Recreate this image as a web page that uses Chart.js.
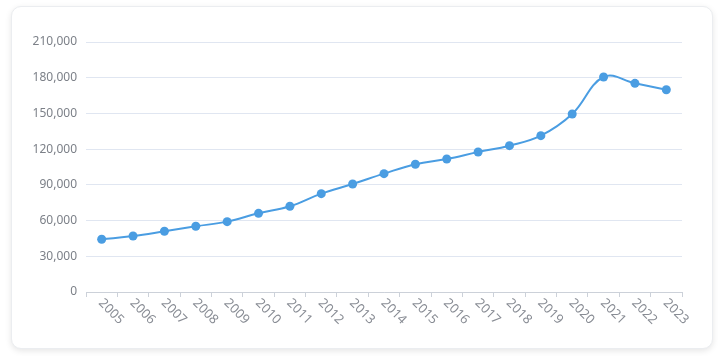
<!DOCTYPE html>
<html>
<head>
<meta charset="utf-8">
<script src="https://cdn.jsdelivr.net/npm/chart.js@4"></script>
<style>
  html, body { margin: 0; padding: 0; background: #fff; }
  .card {
    position: absolute; left: 11px; top: 6px; width: 700px; height: 341px;
    background: #fff; border: 1px solid #ebedf0; border-radius: 10px;
    box-shadow: 0 2px 6px rgba(0,0,0,0.10);
  }
  canvas { display: block; }
</style>
</head>
<body>
<div class="card"><canvas id="chart" width="700" height="341"></canvas></div>
<script>
let years = ["2005","2006","2007","2008","2009","2010","2011","2012","2013","2014",
             "2015","2016","2017","2018","2019","2020","2021","2022","2023"];
let values = [44300, 47000, 51000, 55200, 59100, 66100, 72000, 82600, 90700, 99400,
              107300, 111700, 117600, 122900, 131300, 149500, 180600, 175300, 169900];
let yTicks = [0, 30000, 60000, 90000, 120000, 150000, 180000, 210000];

let yColor = "#7c8088";
let xColor = "#888c94";

// rotated year labels, drawn clockwise starting at each category
let yearLabels = {
    id: "yearLabels",
    afterDraw(c) {
        let sx = c.scales.x, ctx = c.ctx;
        ctx.save();
        ctx.font = "13px 'Noto Sans', sans-serif";
        ctx.fillStyle = xColor;
        ctx.textAlign = "left";
        ctx.textBaseline = "middle";
        years.forEach((y, i) => {
            ctx.save();
            ctx.translate(sx.getPixelForValue(i) - 1, sx.top + 9);
            ctx.rotate(Math.PI / 4);
            ctx.fillText(y, 0, 0);
            ctx.restore();
        });
        ctx.restore();
    }
};

new Chart(document.getElementById("chart"), {
    type: "line",
    data: {
        labels: years,
        datasets: [{
            data: values,
            borderColor: "#4a9de2",
            backgroundColor: "#4a9de2",
            borderWidth: 2,
            pointRadius: 4.5,
            pointBorderWidth: 0,
            tension: 0.4,
            fill: false
        }]
    },
    options: {
        responsive: false,
        animation: false,
        layout: { padding: { left: 0, top: 35, right: 30, bottom: 0 } },
        plugins: { legend: { display: false }, tooltip: { enabled: false } },
        scales: {
            x: {
                offset: true,
                grid: { offset: true, drawOnChartArea: false, tickLength: 5, color: "#ccd1d9" },
                border: { color: "#ccd1d9" },
                ticks: { display: false },
                afterFit: s => { s.height = 56; }
            },
            y: {
                min: 0, max: 210000,
                afterBuildTicks: s => { s.ticks = yTicks.map(v => ({ value: v })); },
                grid: { color: "#E0E6F1", drawTicks: false },
                border: { display: false },
                ticks: {
                    padding: 9,
                    color: yColor,
                    font: { family: "'Noto Sans', sans-serif", size: 12 },
                    callback: v => v.toLocaleString("en-US")
                },
                afterFit: s => { s.width = 74; }
            }
        }
    },
    plugins: [yearLabels]
});
</script>
</body>
</html>
